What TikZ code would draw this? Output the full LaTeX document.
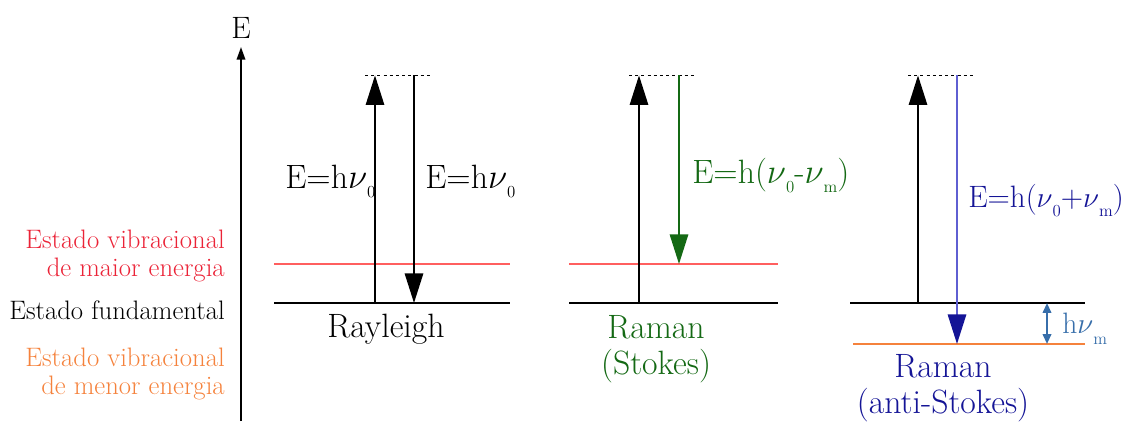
\documentclass[tikz,border=0pt]{standalone}
\usepackage{fontspec}
\usetikzlibrary{arrows.meta}
\definecolor{vermelho}{RGB}{235,35,55}
\definecolor{linhavermelha}{RGB}{255,95,95}
\definecolor{laranja}{RGB}{245,130,60}
\definecolor{verde}{RGB}{20,105,20}
\definecolor{azul}{RGB}{20,20,150}
\definecolor{azulclaro}{RGB}{95,95,210}
\definecolor{azulaco}{RGB}{55,110,170}
\newcommand{\nuu}{$\nu$}
\newcommand{\sub}[1]{\raisebox{-7pt}{\fontsize{12}{12}\selectfont #1}}
\tikzset{
  seta/.style={line width=1.4pt, -{Triangle[length=21pt,width=13pt]}},
  nivel/.style={line width=1.8pt},
  tracejado/.style={line width=0.7pt, dash pattern=on 2.2pt off 2.2pt},
  legenda/.style={anchor=east, align=right, inner sep=0pt, font=\fontsize{19}{20}\selectfont},
  rotulo/.style={inner sep=0pt, font=\fontsize{24}{26}\selectfont}
}
\begin{document}
\begin{tikzpicture}[line cap=butt]
  \useasboundingbox (0,0) rectangle (28.25,10.525);
  % o eixo da energia
  \draw[line width=1.4pt, -{Triangle[length=9pt,width=6pt]}] (6.025,0) -- (6.025,9.35);
  \node (eixoE) [inner sep=0pt, font=\fontsize{22}{22}\selectfont] at (6.025,9.825) {E};
  % as legendas dos estados, à esquerda
  \node (maior) [legenda, text=vermelho] at (5.625,4.125) {Estado vibracional\\de maior energia};
  \node (fund) [legenda] at (5.625,2.775) {Estado fundamental};
  \node (menor) [legenda, text=laranja] at (5.625,1.175) {Estado vibracional\\de menor energia};
  % Rayleigh
  \draw[line width=1pt, linhavermelha] (6.85,3.925) -- (12.75,3.925);
  \draw[nivel] (6.85,2.95) -- (12.75,2.95);
  \draw[tracejado] (9.125,8.64) -- (10.8,8.64);
  \draw[seta] (9.375,2.95) -- (9.375,8.64);
  \draw[seta] (10.35,8.64) -- (10.35,2.95);
  \node (ray1) [rotulo, anchor=base west] at (7.125,5.825) {E=h\nuu\sub{0}};
  \node (ray2) [rotulo, anchor=base west] at (10.625,5.825) {E=h\nuu\sub{0}};
  \node (ray) [rotulo, anchor=base] at (9.65,2.1) {Rayleigh};
  % Raman (Stokes)
  \draw[line width=1pt, linhavermelha] (14.225,3.925) -- (19.45,3.925);
  \draw[nivel] (14.225,2.95) -- (19.45,2.95);
  \draw[tracejado] (15.725,8.64) -- (17.4,8.64);
  \draw[seta] (15.975,2.95) -- (15.975,8.64);
  \draw[seta, verde] (16.975,8.64) -- (16.975,3.925);
  \node (sto1) [rotulo, anchor=base west, text=verde] at (17.3,5.95) {E=h(\nuu\sub{0}-\nuu\sub{m})};
  \node (sto) [rotulo, anchor=north, align=center, text=verde] at (16.4,2.65) {Raman\\(Stokes)};
  % Raman (anti-Stokes)
  \draw[nivel] (21.25,2.95) -- (27.125,2.95);
  \draw[line width=1.8pt, laranja] (21.325,1.925) -- (27.125,1.925);
  \draw[tracejado] (22.7,8.64) -- (24.375,8.64);
  \draw[seta] (22.95,2.95) -- (22.95,8.64);
  \draw[line width=1.4pt, azulclaro, -{Triangle[length=21pt,width=13pt,color=azul]}] (23.925,8.64) -- (23.925,1.925);
  \draw[line width=1.4pt, azulaco, {Triangle[length=7pt,width=6pt]}-{Triangle[length=7pt,width=6pt]}] (26.175,2.95) -- (26.175,1.925);
  \node (hvm) [inner sep=0pt, anchor=base west, text=azulaco, font=\fontsize{21}{21}\selectfont] at (26.55,2.2) {h\nuu\raisebox{-8pt}{\fontsize{12}{12}\selectfont m}};
  \node (ant1) [rotulo, anchor=base west, text=azul, font=\fontsize{22}{24}\selectfont] at (24.2,5.35) {E=h(\nuu\sub{0}+\nuu\sub{m})};
  \node (ant) [rotulo, anchor=north, align=center, text=azul] at (23.575,1.675) {Raman\\(anti-Stokes)};
\end{tikzpicture}
\end{document}
